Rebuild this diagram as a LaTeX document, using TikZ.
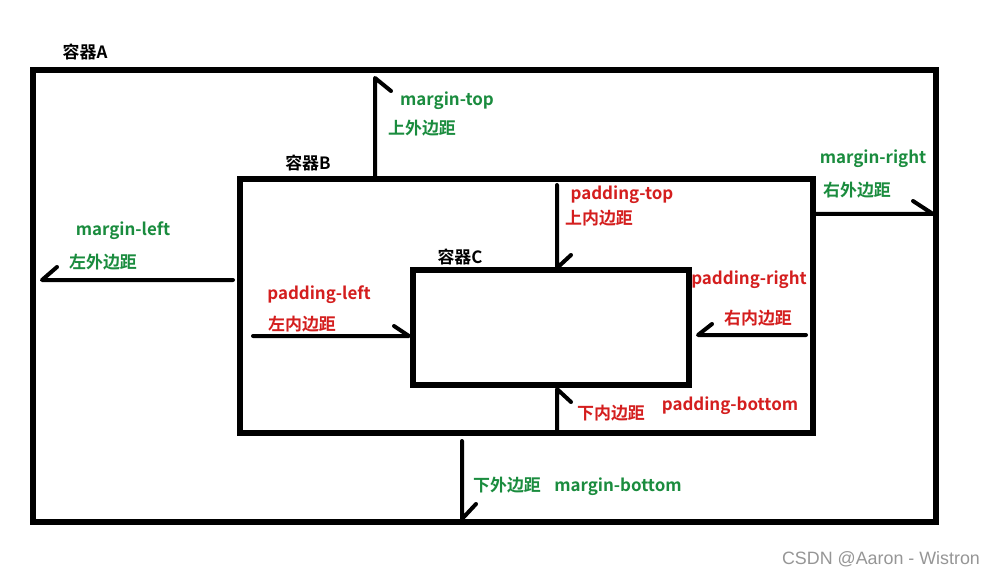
\documentclass[tikz,border=0pt]{standalone}
\usepackage{fontspec}
\setmainfont{Noto Sans CJK SC}[BoldFont={* Bold}]
\newfontfamily\wmfont{Liberation Sans}
\definecolor{mgreen}{RGB}{26,140,62}
\definecolor{pred}{RGB}{212,30,30}
\definecolor{wmgray}{RGB}{150,150,150}
\begin{document}
\begin{tikzpicture}[x=0.75pt,y=-0.75pt,
  box/.style={line width=3.8pt,draw=black},
  arr/.style={line width=3pt,draw=black,line cap=round,line join=round},
  lbl/.style={font=\bfseries\fontsize{12.7}{14}\selectfont,inner sep=0pt,text=black},
  glbl/.style={lbl,text=mgreen},
  rlbl/.style={lbl,text=pred}]
\useasboundingbox[fill=white] (0,0) rectangle (984,577);
% containers
\coordinate (A1) at (33,70); \coordinate (A2) at (936,522);
\coordinate (B1) at (240,179); \coordinate (B2) at (813,433);
\coordinate (C1) at (413,270); \coordinate (C2) at (689,385);
\draw[box] (A1) rectangle (A2);
\draw[box] (B1) rectangle (B2);
\draw[box] (C1) rectangle (C2);
\node[lbl] (tA) at (85,52) {容器A};
\node[lbl] (tB) at (308,163) {容器B};
\node[lbl] (tC) at (460,257) {容器C};
% margin-top
\coordinate (mt0) at (375,179); \coordinate (mt1) at (375,78);
\draw[arr] (mt0) -- (mt1) -- ++(16,13);
\node[glbl] (mtt) at (447,101) {margin-top};
\node[glbl] (mtc) at (422,128) {上外边距};
% margin-right
\coordinate (mr0) at (813,214); \coordinate (mr1) at (933,214);
\draw[arr] (mr0) -- (mr1) -- ++(-20,-13);
\node[glbl] (mrt) at (873,159) {margin-right};
\node[glbl] (mrc) at (857,190) {右外边距};
% margin-left
\coordinate (ml0) at (233,280); \coordinate (ml1) at (42,280);
\draw[arr] (ml0) -- (ml1) -- ++(15,-13);
\node[glbl] (mlt) at (123,231) {margin-left};
\node[glbl] (mlc) at (103,262) {左外边距};
% margin-bottom
\coordinate (mb0) at (462,441); \coordinate (mb1) at (462,519);
\draw[arr] (mb0) -- (mb1) -- ++(14,-15);
\node[glbl] (mbc) at (507,485) {下外边距};
\node[glbl] (mbt) at (618,487) {margin-bottom};
% padding-top
\coordinate (pt0) at (557,185); \coordinate (pt1) at (557,268);
\draw[arr] (pt0) -- (pt1) -- ++(14,-13);
\node[rlbl] (ptt) at (622,195) {padding-top};
\node[rlbl] (ptc) at (599,218) {上内边距};
% padding-left
\coordinate (pl0) at (253,336); \coordinate (pl1) at (409,336);
\draw[arr] (pl0) -- (pl1) -- ++(-15,-10);
\node[rlbl] (plt) at (319,295) {padding-left};
\node[rlbl] (plc) at (302,324) {左内边距};
% padding-right
\coordinate (pr0) at (806,335); \coordinate (pr1) at (698,335);
\draw[arr] (pr0) -- (pr1) -- ++(14,-11);
\node[rlbl] (prt) at (749,280) {padding-right};
\node[rlbl] (prc) at (758,318) {右内边距};
% padding-bottom
\coordinate (pb0) at (557,433); \coordinate (pb1) at (557,389);
\draw[arr] (pb0) -- (pb1) -- ++(14,13);
\node[rlbl] (pbc) at (611,413) {下内边距};
\node[rlbl] (pbt) at (730,406) {padding-bottom};
% watermark
\node[font=\wmfont\fontsize{13.4}{15}\selectfont,text=wmgray,inner sep=0pt] (wm) at (881,559) {CSDN @Aaron - Wistron};
\end{tikzpicture}
\end{document}
